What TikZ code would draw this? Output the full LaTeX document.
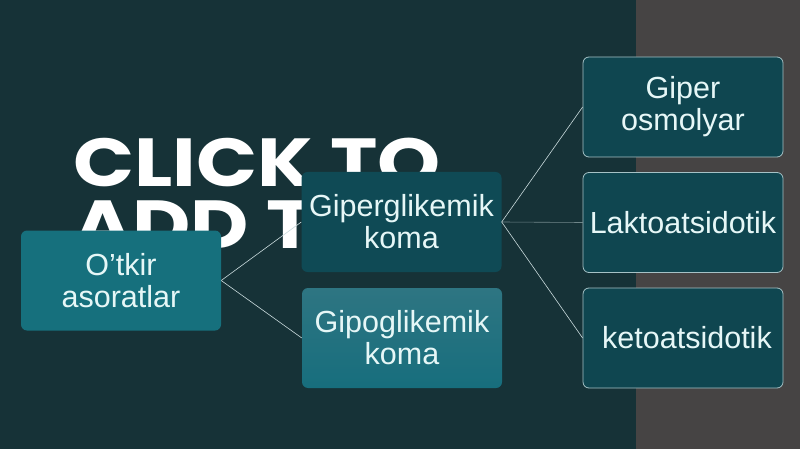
\documentclass[tikz,border=0pt]{standalone}
\usepackage{fontspec}
\setmainfont{Liberation Sans}
\newfontfamily\titlefont{Poppins}
\definecolor{bgleft}{HTML}{163237}
\definecolor{bgright}{HTML}{464444}
\definecolor{boxmid}{HTML}{16707D}
\definecolor{boxdark}{HTML}{0F4A55}
\definecolor{boxright}{HTML}{0F4650}
\definecolor{gradtop}{HTML}{2E7582}
\definecolor{gradbot}{HTML}{176E7D}
\definecolor{rimcol}{HTML}{A6C2C6}
\definecolor{txtcol}{HTML}{E6F7F7}
\definecolor{linkcol}{HTML}{C9DADC}
\tikzset{
  boxbase/.style={rectangle, rounded corners=6pt, minimum width=200pt, minimum height=100pt,
    inner sep=1pt, align=center, text=txtcol, font=\fontsize{30.5}{32}\selectfont},
  midbox/.style={boxbase, fill=boxmid},
  darkbox/.style={boxbase, fill=boxdark},
  gradbox/.style={boxbase, top color=gradtop, bottom color=gradbot},
  rightbox/.style={boxbase, fill=boxright, draw=rimcol, line width=0.8pt},
  link/.style={draw=linkcol, line width=0.6pt},
  bigtitle/.style={anchor=base west, inner sep=0pt, text=white, xscale=1.18,
    font=\titlefont\bfseries\fontsize{68}{68}\selectfont}
}
\begin{document}
\begin{tikzpicture}[x=1pt,y=-1pt]
\useasboundingbox (0,0) rectangle (800,449);
\fill[bgleft] (0,0) rectangle (636,449);
\fill[bgright] (636,0) rectangle (800,449);
\node[bigtitle] (title1) at (73,186) {CLICK TO};
\node[bigtitle] (title2) at (73,248) {ADD T};
\node[darkbox] (giper) at (401.5,222) {Giperglikemik\\koma};
\node[gradbox] (gipo) at (402,338) {Gipoglikemik\\koma};
\node[midbox] (otkir) at (121,280.5) {O’tkir\\asoratlar};
\node[rightbox] (osmo) at (683,107) {Giper\\osmolyar};
\node[rightbox] (lakto) at (683,222.5) {Laktoatsidotik};
\node[rightbox, text width=190pt] (keto) at (683,338) {\hspace*{8pt}ketoatsidotik};
\draw[link] (otkir.east) -- (giper.west);
\draw[link] (otkir.east) -- (gipo.west);
\draw[link] (giper.east) -- (osmo.west);
\draw[link, draw opacity=0.5] (giper.east) -- (lakto.west);
\draw[link] (giper.east) -- (keto.west);
\end{tikzpicture}
\end{document}
